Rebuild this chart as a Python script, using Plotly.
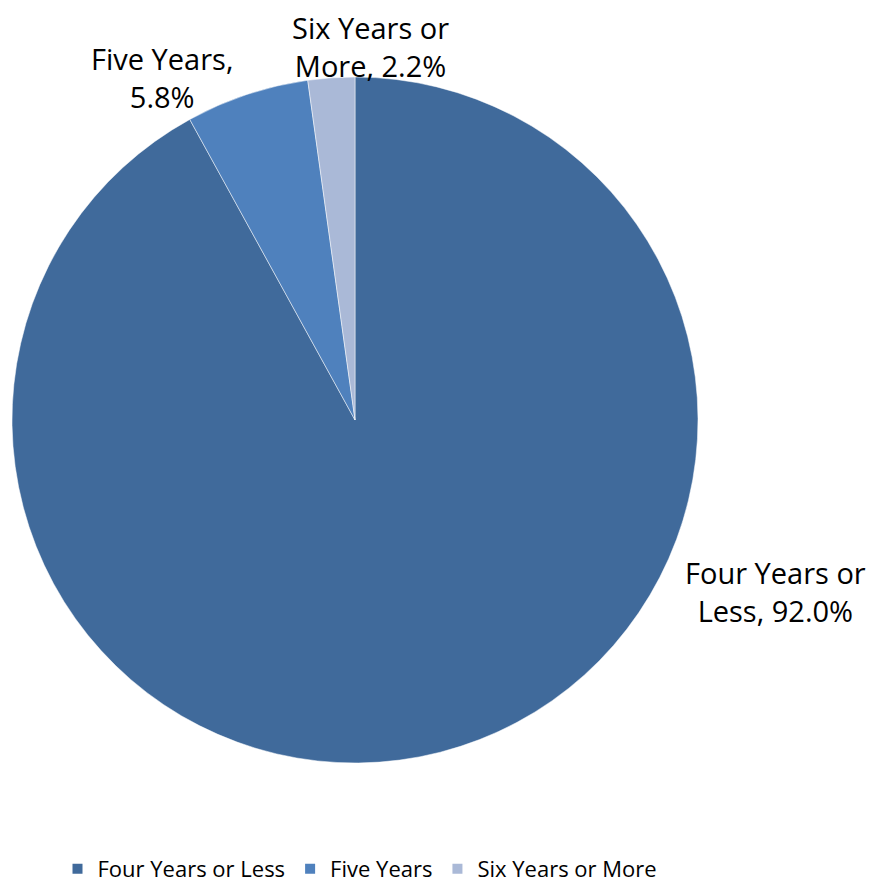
import plotly.graph_objects as go

labels = ["Four Years or Less", "Five Years", "Six Years or More"]
values = [92.0, 5.8, 2.2]
colors = ["#406A9B", "#4F81BD", "#AAB9D7"]
label_texts = ["Four Years or<br>Less, 92.0%", "Five Years,<br>5.8%", "Six Years or<br>More, 2.2%"]

W, H = 880, 884
OFF = 8  # page body margin offset
FONT = "Open Sans, Lato, sans-serif"

def fx(px):
    return (px - OFF) / W

def fy(py):
    return 1 - (py - OFF) / H

fig = go.Figure(go.Pie(
    labels=labels, values=values, sort=False, direction="clockwise", rotation=0,
    marker=dict(colors=colors, line=dict(color="white", width=0.5)),
    textinfo="none", hoverinfo="label+percent",
    domain=dict(x=[fx(12), fx(698)], y=[fy(763), fy(77)]),
))

# label positions (pixel centres in the reference)
label_pos = [(775, 591), (162, 78), (370, 47)]
for t, (px, py) in zip(label_texts, label_pos):
    fig.add_annotation(x=fx(px), y=fy(py), xref="paper", yref="paper", text=t,
                       showarrow=False, font=dict(size=29, color="black", family=FONT),
                       xanchor="center", yanchor="middle", align="center", borderpad=0)

fig.update_layout(
    width=W, height=H, margin=dict(l=0, r=0, t=0, b=0, autoexpand=False),
    paper_bgcolor="white", plot_bgcolor="white",
    font=dict(family=FONT, color="black"),
    showlegend=True,
    legend=dict(orientation="h", x=fx(360), y=fy(869), xanchor="center", yanchor="middle",
                font=dict(size=22, color="black", family=FONT), itemsizing="constant",
                tracegroupgap=0),
)
fig.write_html("out.html")
